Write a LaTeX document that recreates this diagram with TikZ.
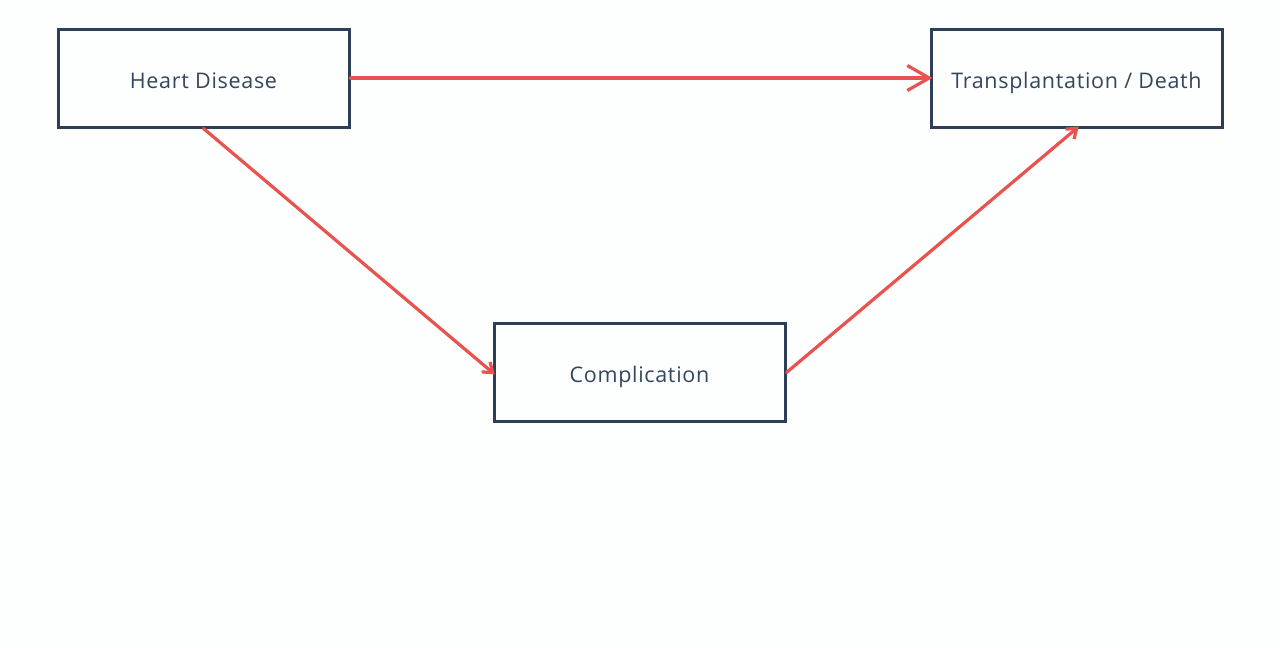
\documentclass[tikz,border=0pt]{standalone}
\usepackage{fontspec}
\setmainfont[LetterSpace=3.2]{Open Sans}
\usetikzlibrary{arrows.meta}
\definecolor{boxc}{HTML}{2E3E56}
\definecolor{txtc}{HTML}{34455E}
\definecolor{arrc}{HTML}{E8524F}
\definecolor{bgc}{HTML}{FDFEFE}
\begin{document}
\begin{tikzpicture}[x=1pt,y=-1pt,
  box/.style={draw=boxc,line width=3pt,minimum width=291pt,minimum height=98pt,inner sep=0pt,text height=20pt,text depth=0pt,text=txtc,font=\fontsize{21.5}{24}\selectfont},
  link/.style={draw=arrc,line width=3.2pt,line cap=round,shorten >=-3pt}]
\fill[bgc] (0,0) rectangle (1280,648);
\useasboundingbox (0,0) rectangle (1280,648);
\node[box] (hd) at (203.5,78) {Heart Disease};
\node[box] (td) at (1076.5,78) {Transplantation / Death};
\node[box] (co) at (639.5,372.5) {Complication};
\draw[link,-{Straight Barb[length=22pt,width=25pt,line width=3.2pt]}] (hd.east) -- (td.west);
\draw[link,-{Straight Barb[length=9pt,width=13pt,line width=3.2pt]}] (hd.south) -- (co.west);
\draw[link,-{Straight Barb[length=9pt,width=13pt,line width=3.2pt]}] (co.east) -- (td.south);
\end{tikzpicture}
\end{document}
